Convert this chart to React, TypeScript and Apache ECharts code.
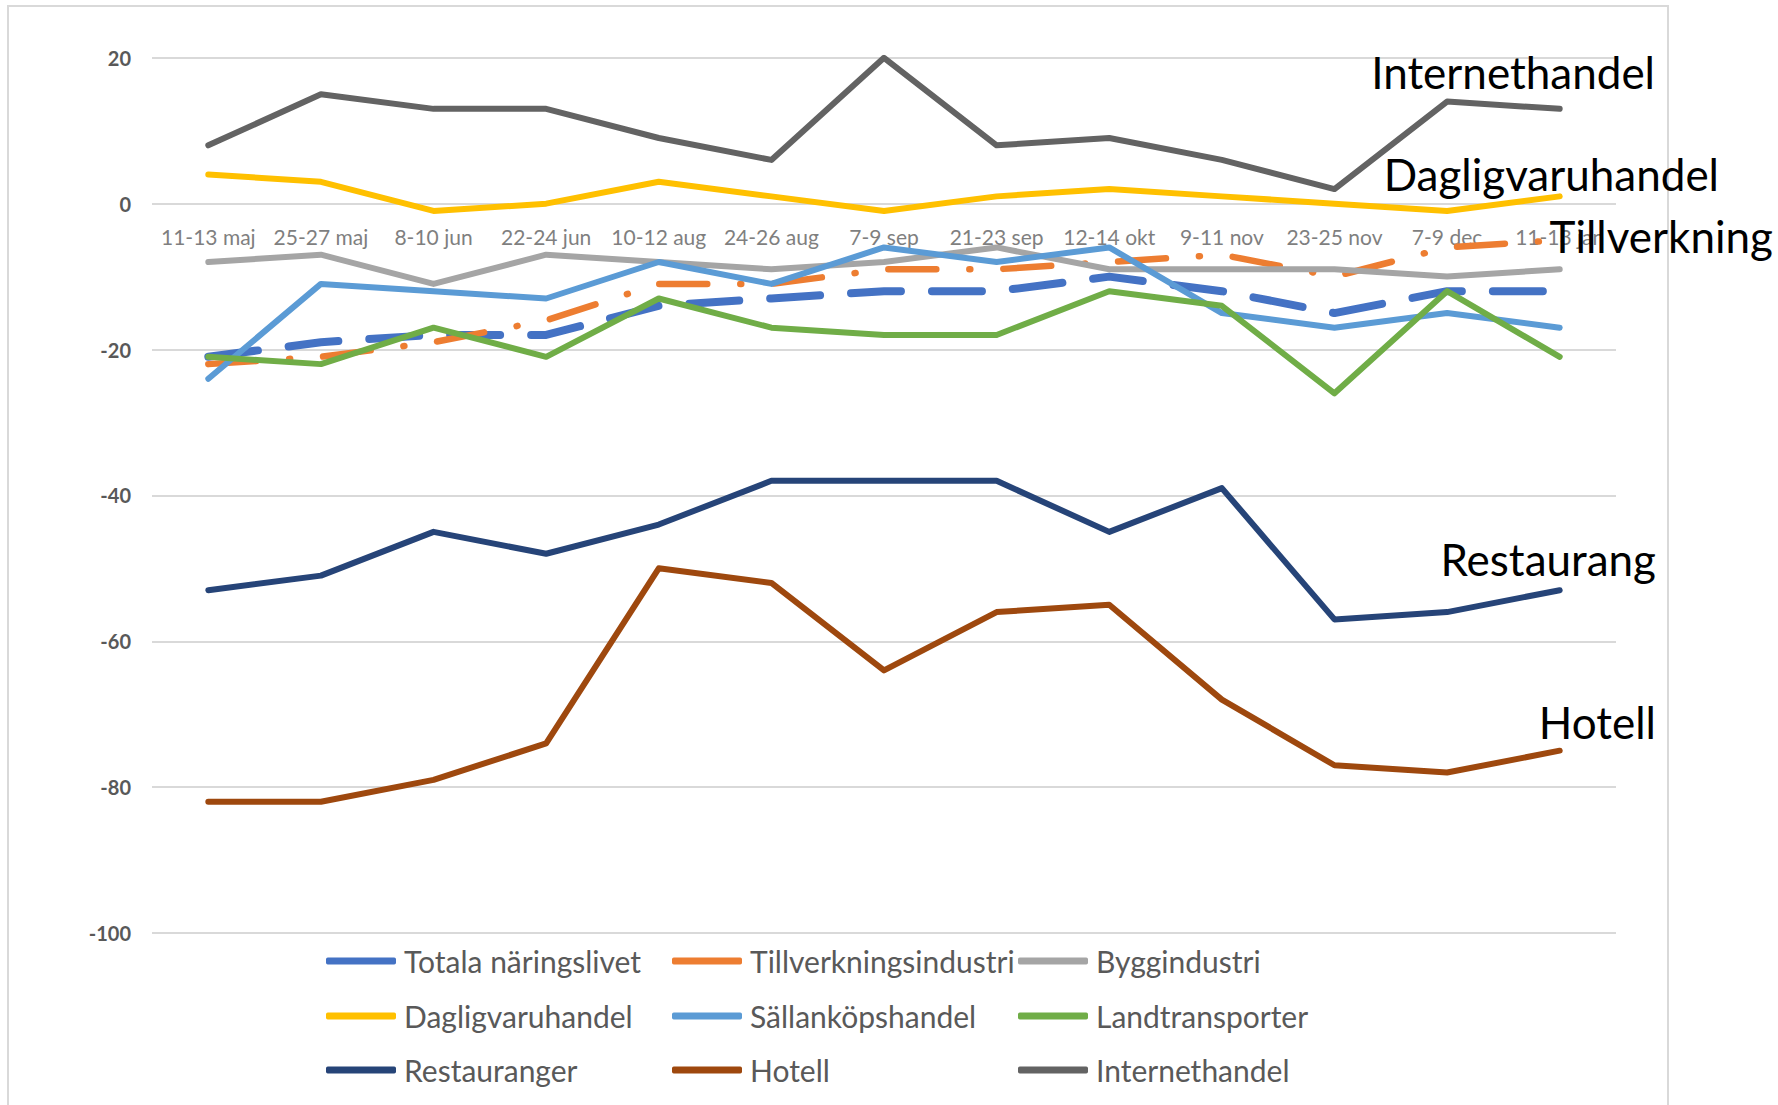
import React, { useEffect, useRef } from "react";
import * as echarts from "echarts";

const categories = [
  "11-13 maj", "25-27 maj", "8-10 jun", "22-24 jun", "10-12 aug", "24-26 aug",
  "7-9 sep", "21-23 sep", "12-14 okt", "9-11 nov", "23-25 nov", "7-9 dec", "11-13 jan",
];

const totala = [-21, -19, -18, -18, -14, -13, -12, -12, -10, -12, -15, -12, -12];
const tillverkning = [-22, -21, -19, -16, -11, -11, -9, -9, -8, -7, -10, -6, -5];
const bygg = [-8, -7, -11, -7, -8, -9, -8, -6, -9, -9, -9, -10, -9];
const daglig = [4, 3, -1, 0, 3, 1, -1, 1, 2, 1, 0, -1, 1];
const sallan = [-24, -11, -12, -13, -8, -11, -6, -8, -6, -15, -17, -15, -17];
const land = [-21, -22, -17, -21, -13, -17, -18, -18, -12, -14, -26, -12, -21];
const restauranger = [-53, -51, -45, -48, -44, -38, -38, -38, -45, -39, -57, -56, -53];
const hotell = [-82, -82, -79, -74, -50, -52, -64, -56, -55, -68, -77, -78, -75];
const internet = [8, 15, 13, 13, 9, 6, 20, 8, 9, 6, 2, 14, 13];

const yTicks = { min: -100, max: 20, interval: 20 };

const seriesNames = [
  "Totala näringslivet", "Tillverkningsindustri", "Byggindustri",
  "Dagligvaruhandel", "Sällanköpshandel", "Landtransporter",
  "Restauranger", "Hotell", "Internethandel",
];
const seriesData = [totala, tillverkning, bygg, daglig, sallan, land, restauranger, hotell, internet];
const seriesColors = ["#4472C4", "#ED7D31", "#A5A5A5", "#FFC000", "#5B9BD5", "#70AD47", "#264478", "#9E480E", "#636363"];

const annotations = [
  { text: "Internethandel", x: 1655, y: 72 },
  { text: "Dagligvaruhandel", x: 1719, y: 174 },
  { text: "Tillverkning", x: 1773, y: 236 },
  { text: "Restaurang", x: 1656, y: 559 },
  { text: "Hotell", x: 1656, y: 722 },
];

const FONT = "Lato, 'Liberation Sans', sans-serif";

export default function App() {
  const ref = useRef<HTMLDivElement>(null);
  useEffect(() => {
    const chart = echarts.init(ref.current!, null, { renderer: "svg" });
    const gridTop = 57.8;
    const gridBottomY = 933;
    const plotH = gridBottomY - gridTop;
    const zeroY = gridTop + (plotH * yTicks.max) / (yTicks.max - yTicks.min);
    const series = seriesNames.map((name, i) => {
      let lineType: any = "solid";
      let width = 6;
      if (i === 0) { lineType = [50, 31]; width = 8; }
      if (i === 1) { lineType = [48, 33, 1, 33]; width = 6.5; }
      return {
        name,
        type: "line",
        data: seriesData[i],
        showSymbol: false,
        symbol: "none",
        color: seriesColors[i],
        lineStyle: { color: seriesColors[i], width, type: lineType, cap: "round", join: "round" },
        emphasis: { disabled: true },
      };
    });
    const colX = [326, 672, 1018];
    const rowY = [962, 1017, 1071];
    const legends = seriesNames.map((name, i) => ({
      data: [name],
      left: colX[i % 3],
      top: rowY[Math.floor(i / 3)] - 16,
      padding: 0,
      itemWidth: 70,
      itemHeight: 7,
      itemGap: 0,
      icon: "roundRect",
      selectedMode: false,
      textStyle: { fontSize: 30, color: "#595959", fontFamily: FONT, padding: [0, 0, 0, 3] },
    }));
    chart.setOption({
      animation: false,
      backgroundColor: "#ffffff",
      grid: { left: 152, right: 162, top: gridTop, bottom: 1105 - gridBottomY },
      xAxis: {
        type: "category",
        data: categories,
        boundaryGap: true,
        position: "bottom",
        offset: -(gridBottomY - zeroY),
        axisLine: { show: false, onZero: false },
        axisTick: { show: false },
        axisLabel: { interval: 0, margin: 22, fontSize: 21, color: "#7f7f7f", fontFamily: FONT },
        splitLine: { show: false },
        z: 0,
      },
      yAxis: {
        type: "value",
        min: yTicks.min,
        max: yTicks.max,
        interval: yTicks.interval,
        axisLine: { show: false },
        axisTick: { show: false },
        axisLabel: { margin: 21, fontSize: 20, fontWeight: "bold", color: "#595959", fontFamily: FONT },
        splitLine: { lineStyle: { color: "#d9d9d9", width: 2 } },
      },
      legend: legends,
      series,
      graphic: [
        {
          type: "rect",
          shape: { x: 8, y: 6, width: 1660, height: 1120 },
          style: { fill: "none", stroke: "#d9d9d9", lineWidth: 2 },
          silent: true,
          z: -10,
        },
        ...annotations.map((a) => ({
          type: "text",
          x: a.x,
          y: a.y,
          silent: true,
          z: 100,
          style: {
            text: a.text,
            fontSize: 44,
            fontFamily: FONT,
            fill: "#000000",
            align: "right",
            verticalAlign: "middle",
          },
        })),
      ],
    });
    return () => chart.dispose();
  }, []);
  return (
    <div
      ref={ref}
      style={{ position: "fixed", left: 0, top: 0, width: 1778, height: 1105, background: "#fff" }}
    />
  );
}
